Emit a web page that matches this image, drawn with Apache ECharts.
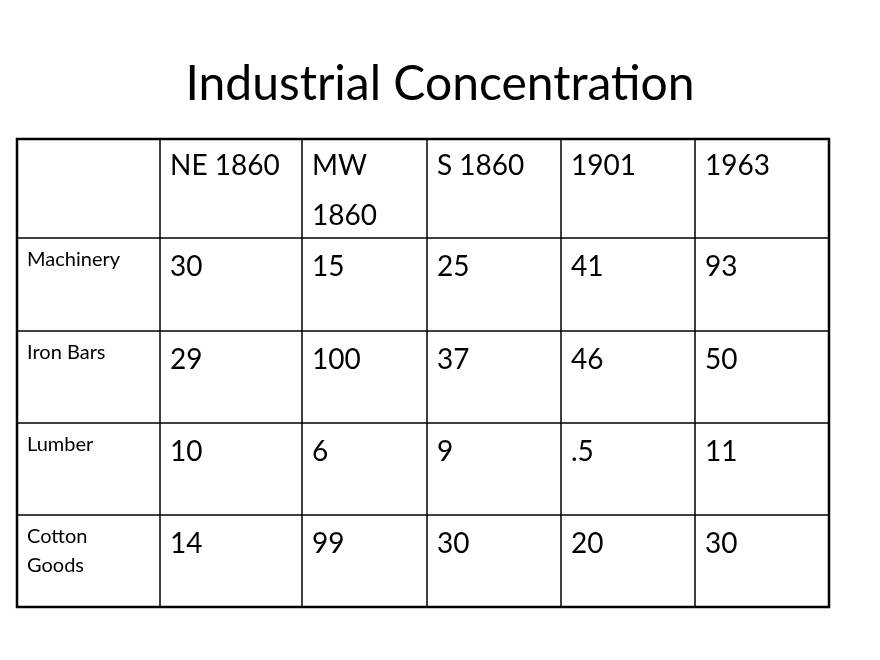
<!DOCTYPE html>
<html><head><meta charset="utf-8">
<script src="https://cdn.jsdelivr.net/npm/echarts@6/dist/echarts.min.js"></script>
<style>html,body{margin:0;background:#fff}#c{width:880px;height:660px}</style></head>
<body><div id="c"></div>
<script>
const title = "Industrial Concentration";
const columns = ["NE 1860", "MW\n1860", "S 1860", "1901", "1963"];
const rowsLabels = ["Machinery", "Iron Bars", "Lumber", "Cotton\nGoods"];
const machinery = ["30", "15", "25", "41", "93"];
const ironBars = ["29", "100", "37", "46", "50"];
const lumber = ["10", "6", "9", ".5", "11"];
const cottonGoods = ["14", "99", "30", "20", "30"];
const values = [machinery, ironBars, lumber, cottonGoods];

// layout (pixel offsets within table)
const colEdges = [0, 143, 285, 410, 544, 678, 812];
const rowEdges = [0, 99, 192, 284, 376, 468];
const FONT = "Lato, 'Open Sans', sans-serif";

const cells = [];
cells.push([0, 0, ""]);
columns.forEach((c, i) => cells.push([i + 1, 0, c]));
rowsLabels.forEach((r, j) => {
  cells.push([0, j + 1, r]);
  values[j].forEach((v, i) => cells.push([i + 1, j + 1, v]));
});

const chart = echarts.init(document.getElementById('c'));
chart.setOption({
  animation: false,
  title: { text: title, left: 'center', top: 56, textStyle: { fontFamily: FONT, fontSize: 48, fontWeight: 'normal', color: '#000' } },
  grid: { left: 17, top: 139, width: 812, height: 468, show: true, borderColor: '#000', borderWidth: 2.5, z: 10 },
  xAxis: { type: 'value', min: 0, max: 812, show: false },
  yAxis: { type: 'value', min: 0, max: 468, inverse: true, show: false },
  series: [{
    type: 'custom',
    data: cells,
    renderItem: function (params, api) {
      const c = api.value(0), r = api.value(1);
      const txt = cells[params.dataIndex][2];
      const p0 = api.coord([colEdges[c], rowEdges[r]]);
      const p1 = api.coord([colEdges[c + 1], rowEdges[r + 1]]);
      const small = c === 0;
      return {
        type: 'group',
        children: [
          { type: 'rect', shape: { x: p0[0], y: p0[1], width: p1[0] - p0[0], height: p1[1] - p0[1] },
            style: { fill: 'none', stroke: '#000', lineWidth: 1 } },
          { type: 'text', x: p0[0] + 10, y: p0[1] + (small ? 7 : (r === 0 ? 2 : 4)),
            style: { text: txt, fontFamily: FONT, fontSize: small ? 20 : 28, lineHeight: small ? 29 : 50,
                     fill: '#000', align: 'left', verticalAlign: 'top' } }
        ]
      };
    }
  }]
});
</script></body></html>
